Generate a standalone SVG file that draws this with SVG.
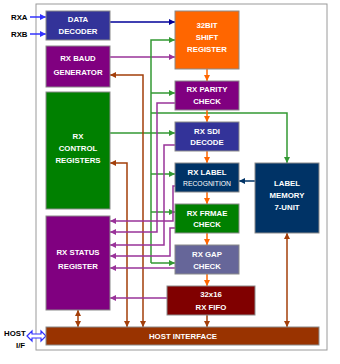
<svg xmlns="http://www.w3.org/2000/svg" width="340" height="364" viewBox="0 0 340 364">
<defs>
<style>
.box{stroke:#8a8a8a;stroke-width:1}
.t{font-family:"Liberation Sans",Arial,sans-serif;font-size:7.8px;font-weight:bold;fill:#fff;text-anchor:middle}
.lbl{font-family:"Liberation Sans",Arial,sans-serif;font-size:7.8px;font-weight:bold;fill:#000}
.c{fill:none;stroke-width:1.5}
.blue{stroke:#000099}
.inb{stroke:#3333ff}
.grn{stroke:#339933}
.pur{stroke:#993399}
.brn{stroke:#a33f0a}
.org{stroke:#ff6600}
.nav{stroke:#003366}
</style>
<marker id="aBlue" viewBox="0 0 10 10" refX="10" refY="5" markerWidth="6" markerHeight="6" markerUnits="userSpaceOnUse" orient="auto"><path d="M0,0L10,5L0,10z" fill="#000099"/></marker>
<marker id="aIn" viewBox="0 0 10 10" refX="10" refY="5" markerWidth="6" markerHeight="6" markerUnits="userSpaceOnUse" orient="auto"><path d="M0,0L10,5L0,10z" fill="#3333ff"/></marker>
<marker id="aGrn" viewBox="0 0 10 10" refX="10" refY="5" markerWidth="6" markerHeight="6" markerUnits="userSpaceOnUse" orient="auto"><path d="M0,0L10,5L0,10z" fill="#339933"/></marker>
<marker id="aPur" viewBox="0 0 10 10" refX="10" refY="5" markerWidth="6" markerHeight="6" markerUnits="userSpaceOnUse" orient="auto"><path d="M0,0L10,5L0,10z" fill="#993399"/></marker>
<marker id="aBrn" viewBox="0 0 10 10" refX="10" refY="5" markerWidth="6" markerHeight="6" markerUnits="userSpaceOnUse" orient="auto-start-reverse"><path d="M0,0L10,5L0,10z" fill="#a33f0a"/></marker>
<marker id="aOrg" viewBox="0 0 10 10" refX="10" refY="5" markerWidth="6" markerHeight="6" markerUnits="userSpaceOnUse" orient="auto"><path d="M0,0L10,5L0,10z" fill="#ff6600"/></marker>
<marker id="aNav" viewBox="0 0 10 10" refX="10" refY="5" markerWidth="6" markerHeight="6" markerUnits="userSpaceOnUse" orient="auto"><path d="M0,0L10,5L0,10z" fill="#003366"/></marker>
</defs>
<rect x="0" y="0" width="340" height="364" fill="#fff"/>
<rect x="36" y="4" width="291" height="346" fill="#fff" stroke="#9a9a9a" stroke-width="1"/>

<g id="connectors">
<path class="c inb" d="M30,17H46" marker-end="url(#aIn)"/>
<path class="c inb" d="M30,34H46" marker-end="url(#aIn)"/>
<polygon points="27,336 32,331 32,334 41,334 41,331 46,336 41,341 41,338 32,338 32,341" fill="#fff" stroke="#3333ff" stroke-width="1.2"/>
<path class="c blue" d="M110,22H175" marker-end="url(#aBlue)"/>
<path class="c pur" d="M110,57H175" marker-end="url(#aPur)"/>
<path class="c grn" d="M151,263V40H175" marker-end="url(#aGrn)"/>
<path class="c grn" d="M151,93H175" marker-end="url(#aGrn)"/>
<path class="c grn" d="M110,133H175" marker-end="url(#aGrn)"/>
<path class="c grn" d="M151,174H175" marker-end="url(#aGrn)"/>
<path class="c grn" d="M151,212H175" marker-end="url(#aGrn)"/>
<path class="c grn" d="M151,263H175" marker-end="url(#aGrn)"/>
<path class="c grn" d="M151,113H287V163" marker-end="url(#aGrn)"/>
<path class="c brn" d="M143,327V75H110" marker-start="url(#aBrn)" marker-end="url(#aBrn)"/>
<path class="c brn" d="M127,327V163H110" marker-start="url(#aBrn)" marker-end="url(#aBrn)"/>
<path class="c brn" d="M78,310V327" marker-start="url(#aBrn)" marker-end="url(#aBrn)"/>
<path class="c brn" d="M287,233V327" marker-start="url(#aBrn)" marker-end="url(#aBrn)"/>
<path class="c brn" d="M207,315V327" marker-end="url(#aBrn)"/>
<path class="c nav" d="M255,181H239" marker-end="url(#aNav)"/>
<path class="c org" d="M207,69V81" marker-end="url(#aOrg)"/>
<path class="c org" d="M207,110V122" marker-end="url(#aOrg)"/>
<path class="c org" d="M207,151V163" marker-end="url(#aOrg)"/>
<path class="c org" d="M207,192V204" marker-end="url(#aOrg)"/>
<path class="c org" d="M207,233V245" marker-end="url(#aOrg)"/>
<path class="c org" d="M207,274V286" marker-end="url(#aOrg)"/>
<path class="c pur" d="M175,103H157V232H110" marker-end="url(#aPur)"/>
<path class="c pur" d="M175,145H164V245H110" marker-end="url(#aPur)"/>
<path class="c pur" d="M175,186H173V221H110" marker-end="url(#aPur)"/>
<path class="c pur" d="M175,228H170V256H110" marker-end="url(#aPur)"/>
<path class="c pur" d="M175,268H110" marker-end="url(#aPur)"/>
<path class="c pur" d="M167,298H110" marker-end="url(#aPur)"/>
</g>

<text class="lbl" x="11" y="20">RXA</text>
<text class="lbl" x="11" y="37">RXB</text>
<text class="lbl" x="4" y="336">HOST</text>
<text class="lbl" x="16" y="348">I/F</text>

<g id="data-decoder"><rect class="box" x="46" y="11" width="64" height="29" fill="#333399"/><text class="t" x="78" y="22">DATA</text><text class="t" x="78" y="34">DECODER</text></g>
<g id="baud"><rect class="box" x="46" y="46" width="64" height="41" fill="#800080"/><text class="t" x="78" y="61">RX BAUD</text><text class="t" x="78" y="75">GENERATOR</text></g>
<g id="control"><rect class="box" x="46" y="92" width="64" height="117" fill="#008000"/><text class="t" x="78" y="139">RX</text><text class="t" x="78" y="151">CONTROL</text><text class="t" x="78" y="163">REGISTERS</text></g>
<g id="status"><rect class="box" x="46" y="216" width="64" height="94" fill="#800080"/><text class="t" x="78" y="255">RX STATUS</text><text class="t" x="78" y="269">REGISTER</text></g>
<g id="host"><rect class="box" x="46" y="327" width="273" height="18" fill="#993300"/><text class="t" x="183" y="339">HOST INTERFACE</text></g>
<g id="shift"><rect class="box" x="175" y="11" width="64" height="58" fill="#ff6600"/><text class="t" x="207" y="28">32BIT</text><text class="t" x="207" y="40">SHIFT</text><text class="t" x="207" y="52">REGISTER</text></g>
<g id="parity"><rect class="box" x="175" y="81" width="64" height="29" fill="#800080"/><text class="t" x="207" y="92">RX PARITY</text><text class="t" x="207" y="104">CHECK</text></g>
<g id="sdi"><rect class="box" x="175" y="122" width="64" height="29" fill="#333399"/><text class="t" x="207" y="134">RX SDI</text><text class="t" x="207" y="145">DECODE</text></g>
<g id="label-rec"><rect class="box" x="175" y="163" width="64" height="29" fill="#003366"/><text class="t" x="207" y="175">RX LABEL</text><text class="t" x="207" y="186" style="font-weight:normal;font-size:6.8px">RECOGNITION</text></g>
<g id="frame"><rect class="box" x="175" y="204" width="64" height="29" fill="#008000"/><text class="t" x="207" y="216">RX FRMAE</text><text class="t" x="207" y="227">CHECK</text></g>
<g id="gap"><rect class="box" x="175" y="245" width="64" height="29" fill="#666699"/><text class="t" x="207" y="257">RX GAP</text><text class="t" x="207" y="269">CHECK</text></g>
<g id="fifo"><rect class="box" x="167" y="286" width="88" height="29" fill="#800000"/><text class="t" x="211" y="297">32x16</text><text class="t" x="211" y="310">RX FIFO</text></g>
<g id="label-mem"><rect class="box" x="255" y="163" width="64" height="70" fill="#003366"/><text class="t" x="287" y="186">LABEL</text><text class="t" x="287" y="198">MEMORY</text><text class="t" x="287" y="210">7-UNIT</text></g>
</svg>
